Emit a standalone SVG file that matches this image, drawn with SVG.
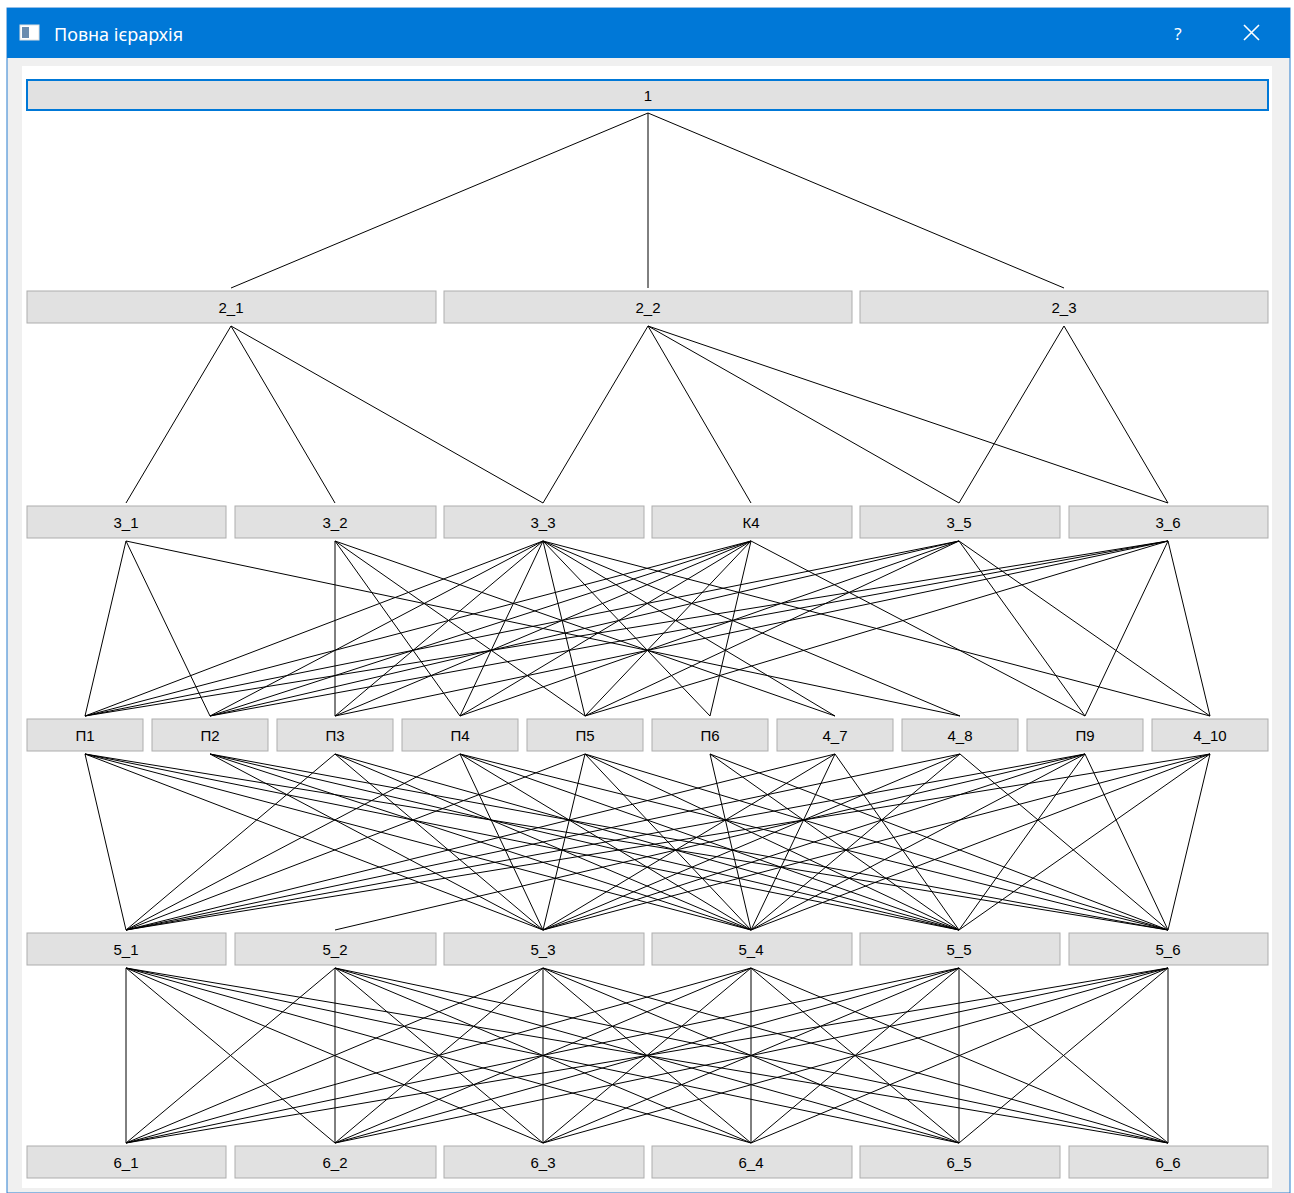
<svg xmlns="http://www.w3.org/2000/svg" width="1294" height="1193" viewBox="0 0 1294 1193">
<style>
.n rect{fill:#e1e1e1;stroke:#adadad;stroke-width:1}
.n text{font-family:"Liberation Sans","DejaVu Sans",sans-serif;font-size:15px;fill:#000;text-anchor:middle}
#edges line{stroke:#000;stroke-width:1}
</style>
<rect x="0" y="0" width="1294" height="1193" fill="#ffffff"/>
<rect x="7" y="8" width="1283" height="1185" fill="#f0f0f0" stroke="#2b7fd0" stroke-width="1"/>
<rect x="7" y="8" width="1283" height="50" fill="#0078d7"/>
<g id="titlebar">
<rect x="20" y="25" width="19" height="15" fill="#ffffff" stroke="#e0e0e0"/>
<rect x="22" y="27" width="7" height="11" fill="#6a8caf"/>
<text x="54" y="41" font-family="'Noto Sans','DejaVu Sans',sans-serif" font-size="18" fill="#ffffff">Повна ієрархія</text>
<text x="1178" y="40" font-family="'Noto Sans','DejaVu Sans',sans-serif" font-size="17" fill="#ffffff" text-anchor="middle">?</text>
<path d="M1244 25 L1259 40 M1259 25 L1244 40" stroke="#ffffff" stroke-width="1.6"/>
</g>
<rect x="22" y="66" width="1250" height="1122" fill="#ffffff"/>
<g id="edges">
<line x1="648" y1="113" x2="231" y2="288"/><line x1="648" y1="113" x2="648" y2="288"/><line x1="648" y1="113" x2="1064" y2="288"/>
<line x1="231" y1="326" x2="126" y2="503"/><line x1="231" y1="326" x2="335" y2="503"/><line x1="231" y1="326" x2="543" y2="503"/>
<line x1="648" y1="326" x2="543" y2="503"/><line x1="648" y1="326" x2="751" y2="503"/><line x1="648" y1="326" x2="959" y2="503"/><line x1="648" y1="326" x2="1168" y2="503"/>
<line x1="1064" y1="326" x2="959" y2="503"/><line x1="1064" y1="326" x2="1168" y2="503"/>
<!-- 3 to 4 -->
<line x1="126" y1="541" x2="85" y2="716"/><line x1="126" y1="541" x2="210" y2="716"/><line x1="126" y1="541" x2="960" y2="716"/>
<line x1="335" y1="541" x2="335" y2="716"/><line x1="335" y1="541" x2="460" y2="716"/><line x1="335" y1="541" x2="585" y2="716"/><line x1="335" y1="541" x2="835" y2="716"/>
<line x1="543" y1="541" x2="85" y2="716"/><line x1="543" y1="541" x2="210" y2="716"/><line x1="543" y1="541" x2="335" y2="716"/><line x1="543" y1="541" x2="460" y2="716"/><line x1="543" y1="541" x2="585" y2="716"/><line x1="543" y1="541" x2="710" y2="716"/><line x1="543" y1="541" x2="835" y2="716"/><line x1="543" y1="541" x2="960" y2="716"/><line x1="543" y1="541" x2="1210" y2="716"/>
<line x1="751" y1="541" x2="85" y2="716"/><line x1="751" y1="541" x2="210" y2="716"/><line x1="751" y1="541" x2="335" y2="716"/><line x1="751" y1="541" x2="460" y2="716"/><line x1="751" y1="541" x2="585" y2="716"/><line x1="751" y1="541" x2="710" y2="716"/><line x1="751" y1="541" x2="1085" y2="716"/>
<line x1="959" y1="541" x2="85" y2="716"/><line x1="959" y1="541" x2="210" y2="716"/><line x1="959" y1="541" x2="460" y2="716"/><line x1="959" y1="541" x2="585" y2="716"/><line x1="959" y1="541" x2="1085" y2="716"/><line x1="959" y1="541" x2="1210" y2="716"/>
<line x1="1168" y1="541" x2="85" y2="716"/><line x1="1168" y1="541" x2="210" y2="716"/><line x1="1168" y1="541" x2="335" y2="716"/><line x1="1168" y1="541" x2="585" y2="716"/><line x1="1168" y1="541" x2="1085" y2="716"/><line x1="1168" y1="541" x2="1210" y2="716"/>
<!-- 4 to 5 -->
<line x1="85" y1="754" x2="126" y2="930"/><line x1="85" y1="754" x2="543" y2="930"/><line x1="85" y1="754" x2="751" y2="930"/><line x1="85" y1="754" x2="959" y2="930"/><line x1="85" y1="754" x2="1168" y2="930"/>
<line x1="210" y1="754" x2="543" y2="930"/><line x1="210" y1="754" x2="751" y2="930"/><line x1="210" y1="754" x2="959" y2="930"/><line x1="210" y1="754" x2="1168" y2="930"/>
<line x1="335" y1="754" x2="126" y2="930"/><line x1="335" y1="754" x2="543" y2="930"/><line x1="335" y1="754" x2="751" y2="930"/><line x1="335" y1="754" x2="959" y2="930"/>
<line x1="460" y1="754" x2="126" y2="930"/><line x1="460" y1="754" x2="543" y2="930"/><line x1="460" y1="754" x2="751" y2="930"/><line x1="460" y1="754" x2="959" y2="930"/><line x1="460" y1="754" x2="1168" y2="930"/>
<line x1="585" y1="754" x2="126" y2="930"/><line x1="585" y1="754" x2="543" y2="930"/><line x1="585" y1="754" x2="751" y2="930"/><line x1="585" y1="754" x2="959" y2="930"/><line x1="585" y1="754" x2="1168" y2="930"/>
<line x1="710" y1="754" x2="751" y2="930"/><line x1="710" y1="754" x2="959" y2="930"/><line x1="710" y1="754" x2="1168" y2="930"/>
<line x1="835" y1="754" x2="126" y2="930"/><line x1="835" y1="754" x2="543" y2="930"/><line x1="835" y1="754" x2="751" y2="930"/><line x1="835" y1="754" x2="959" y2="930"/>
<line x1="960" y1="754" x2="126" y2="930"/><line x1="960" y1="754" x2="543" y2="930"/><line x1="960" y1="754" x2="751" y2="930"/><line x1="960" y1="754" x2="1168" y2="930"/>
<line x1="1085" y1="754" x2="126" y2="930"/><line x1="1085" y1="754" x2="335" y2="930"/><line x1="1085" y1="754" x2="543" y2="930"/><line x1="1085" y1="754" x2="751" y2="930"/><line x1="1085" y1="754" x2="959" y2="930"/><line x1="1085" y1="754" x2="1168" y2="930"/>
<line x1="1210" y1="754" x2="126" y2="930"/><line x1="1210" y1="754" x2="543" y2="930"/><line x1="1210" y1="754" x2="751" y2="930"/><line x1="1210" y1="754" x2="959" y2="930"/><line x1="1210" y1="754" x2="1168" y2="930"/>
<!-- 5 to 6 -->
<line x1="126" y1="968" x2="126" y2="1143"/><line x1="126" y1="968" x2="335" y2="1143"/><line x1="126" y1="968" x2="543" y2="1143"/><line x1="126" y1="968" x2="751" y2="1143"/><line x1="126" y1="968" x2="959" y2="1143"/><line x1="126" y1="968" x2="1168" y2="1143"/>
<line x1="335" y1="968" x2="126" y2="1143"/><line x1="335" y1="968" x2="335" y2="1143"/><line x1="335" y1="968" x2="543" y2="1143"/><line x1="335" y1="968" x2="751" y2="1143"/><line x1="335" y1="968" x2="959" y2="1143"/><line x1="335" y1="968" x2="1168" y2="1143"/>
<line x1="543" y1="968" x2="126" y2="1143"/><line x1="543" y1="968" x2="335" y2="1143"/><line x1="543" y1="968" x2="543" y2="1143"/><line x1="543" y1="968" x2="751" y2="1143"/><line x1="543" y1="968" x2="959" y2="1143"/><line x1="543" y1="968" x2="1168" y2="1143"/>
<line x1="751" y1="968" x2="126" y2="1143"/><line x1="751" y1="968" x2="335" y2="1143"/><line x1="751" y1="968" x2="543" y2="1143"/><line x1="751" y1="968" x2="751" y2="1143"/><line x1="751" y1="968" x2="959" y2="1143"/><line x1="751" y1="968" x2="1168" y2="1143"/>
<line x1="959" y1="968" x2="126" y2="1143"/><line x1="959" y1="968" x2="335" y2="1143"/><line x1="959" y1="968" x2="543" y2="1143"/><line x1="959" y1="968" x2="751" y2="1143"/><line x1="959" y1="968" x2="959" y2="1143"/><line x1="959" y1="968" x2="1168" y2="1143"/>
<line x1="1168" y1="968" x2="126" y2="1143"/><line x1="1168" y1="968" x2="335" y2="1143"/><line x1="1168" y1="968" x2="543" y2="1143"/><line x1="1168" y1="968" x2="751" y2="1143"/><line x1="1168" y1="968" x2="959" y2="1143"/><line x1="1168" y1="968" x2="1168" y2="1143"/>
</g>
<g id="n1" class="n"><rect x="27" y="80" width="1241" height="30" style="stroke:#0078d7;stroke-width:2"/><text x="648" y="101">1</text></g>
<g id="n2_1" class="n"><rect x="27" y="291" width="409" height="32"/><text x="231" y="313">2_1</text></g>
<g id="n2_2" class="n"><rect x="444" y="291" width="408" height="32"/><text x="648" y="313">2_2</text></g>
<g id="n2_3" class="n"><rect x="860" y="291" width="408" height="32"/><text x="1064" y="313">2_3</text></g>
<g id="n3_1" class="n"><rect x="27" y="506" width="199" height="32"/><text x="126" y="528">3_1</text></g>
<g id="n3_2" class="n"><rect x="235" y="506" width="201" height="32"/><text x="335" y="528">3_2</text></g>
<g id="n3_3" class="n"><rect x="444" y="506" width="200" height="32"/><text x="543" y="528">3_3</text></g>
<g id="n3_4" class="n"><rect x="652" y="506" width="200" height="32"/><text x="751" y="528">К4</text></g>
<g id="n3_5" class="n"><rect x="860" y="506" width="200" height="32"/><text x="959" y="528">3_5</text></g>
<g id="n3_6" class="n"><rect x="1069" y="506" width="199" height="32"/><text x="1168" y="528">3_6</text></g>
<g id="n4_1" class="n"><rect x="27" y="719" width="116" height="32"/><text x="85" y="741">П1</text></g>
<g id="n4_2" class="n"><rect x="152" y="719" width="116" height="32"/><text x="210" y="741">П2</text></g>
<g id="n4_3" class="n"><rect x="277" y="719" width="116" height="32"/><text x="335" y="741">П3</text></g>
<g id="n4_4" class="n"><rect x="402" y="719" width="116" height="32"/><text x="460" y="741">П4</text></g>
<g id="n4_5" class="n"><rect x="527" y="719" width="116" height="32"/><text x="585" y="741">П5</text></g>
<g id="n4_6" class="n"><rect x="652" y="719" width="116" height="32"/><text x="710" y="741">П6</text></g>
<g id="n4_7" class="n"><rect x="777" y="719" width="116" height="32"/><text x="835" y="741">4_7</text></g>
<g id="n4_8" class="n"><rect x="902" y="719" width="116" height="32"/><text x="960" y="741">4_8</text></g>
<g id="n4_9" class="n"><rect x="1027" y="719" width="116" height="32"/><text x="1085" y="741">П9</text></g>
<g id="n4_10" class="n"><rect x="1152" y="719" width="116" height="32"/><text x="1210" y="741">4_10</text></g>
<g id="n5_1" class="n"><rect x="27" y="933" width="199" height="32"/><text x="126" y="955">5_1</text></g>
<g id="n5_2" class="n"><rect x="235" y="933" width="201" height="32"/><text x="335" y="955">5_2</text></g>
<g id="n5_3" class="n"><rect x="444" y="933" width="200" height="32"/><text x="543" y="955">5_3</text></g>
<g id="n5_4" class="n"><rect x="652" y="933" width="200" height="32"/><text x="751" y="955">5_4</text></g>
<g id="n5_5" class="n"><rect x="860" y="933" width="200" height="32"/><text x="959" y="955">5_5</text></g>
<g id="n5_6" class="n"><rect x="1069" y="933" width="199" height="32"/><text x="1168" y="955">5_6</text></g>
<g id="n6_1" class="n"><rect x="27" y="1146" width="199" height="32"/><text x="126" y="1168">6_1</text></g>
<g id="n6_2" class="n"><rect x="235" y="1146" width="201" height="32"/><text x="335" y="1168">6_2</text></g>
<g id="n6_3" class="n"><rect x="444" y="1146" width="200" height="32"/><text x="543" y="1168">6_3</text></g>
<g id="n6_4" class="n"><rect x="652" y="1146" width="200" height="32"/><text x="751" y="1168">6_4</text></g>
<g id="n6_5" class="n"><rect x="860" y="1146" width="200" height="32"/><text x="959" y="1168">6_5</text></g>
<g id="n6_6" class="n"><rect x="1069" y="1146" width="199" height="32"/><text x="1168" y="1168">6_6</text></g>
</svg>
